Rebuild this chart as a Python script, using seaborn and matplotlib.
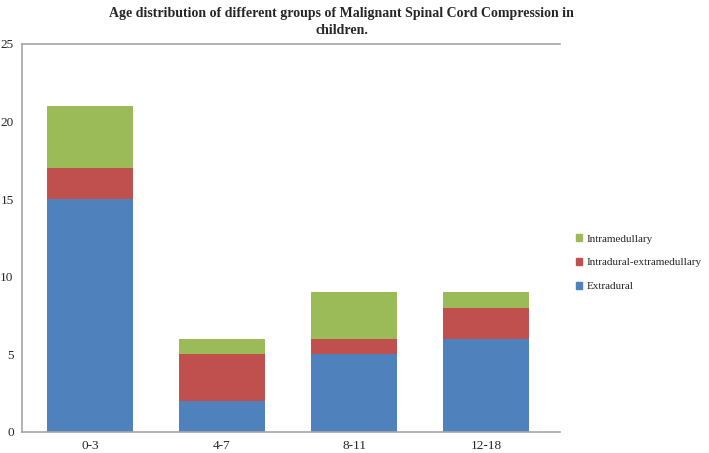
import matplotlib
matplotlib.use("Agg")
import matplotlib.pyplot as plt
import seaborn as sns
import pandas as pd
import numpy as np
from matplotlib.patches import Patch

categories = ["0-3", "4-7", "8-11", "12-18"]
extradural = [15, 2, 5, 6]
intradural_extramedullary = [2, 3, 1, 2]
intramedullary = [4, 1, 3, 1]
title = "Age distribution of different groups of Malignant Spinal Cord Compression in\nchildren."
y_ticks = [0, 5, 10, 15, 20, 25]

c_blue = "#4F81BD"
c_red = "#C0504D"
c_green = "#9BBB59"

sns.set_theme(style="white")
plt.rcParams['font.family'] = ['Liberation Serif', 'DejaVu Serif']

e = np.array(extradural)
r = np.array(intradural_extramedullary)
g = np.array(intramedullary)
df = pd.DataFrame({"cat": categories, "total": e + r + g, "er": e + r, "e": e})

fig = plt.figure(figsize=(7.09, 4.53), dpi=100)
ax = fig.add_axes([0.031, 0.0464, 0.759, 0.857])

w = 0.65
sns.barplot(data=df, x="cat", y="total", color=c_green, width=w, saturation=1, ax=ax, linewidth=0)
sns.barplot(data=df, x="cat", y="er", color=c_red, width=w, saturation=1, ax=ax, linewidth=0)
sns.barplot(data=df, x="cat", y="e", color=c_blue, width=w, saturation=1, ax=ax, linewidth=0)

ax.set_ylim(0, 25)
ax.set_xlim(-0.515, 3.56)
ax.set_yticks(y_ticks)
ax.set_yticklabels([str(t) for t in y_ticks], fontsize=9.5)
ax.tick_params(axis='x', labelsize=9.5, pad=6, length=0)
ax.tick_params(axis='y', pad=6, length=0)
ax.set_xlabel("")
ax.set_ylabel("")
for s in ["left", "bottom", "top"]:
    ax.spines[s].set_color("#A6A6A6")
    ax.spines[s].set_linewidth(1.2)
ax.spines["right"].set_visible(False)

fig.text(0.482, 0.985, title, ha="center", va="top", fontsize=10, fontweight="bold", linespacing=1.45)

handles = [Patch(color=c_green, label="Intramedullary"),
           Patch(color=c_red, label="Intradural-extramedullary"),
           Patch(color=c_blue, label="Extradural")]
fig.legend(handles=handles, loc="center left", bbox_to_anchor=(0.812, 0.42), frameon=False,
           fontsize=8, handlelength=0.6, handleheight=0.6, handletextpad=0.4, labelspacing=1.3,
           borderpad=0, borderaxespad=0)

fig.savefig("out.png", dpi=100)
